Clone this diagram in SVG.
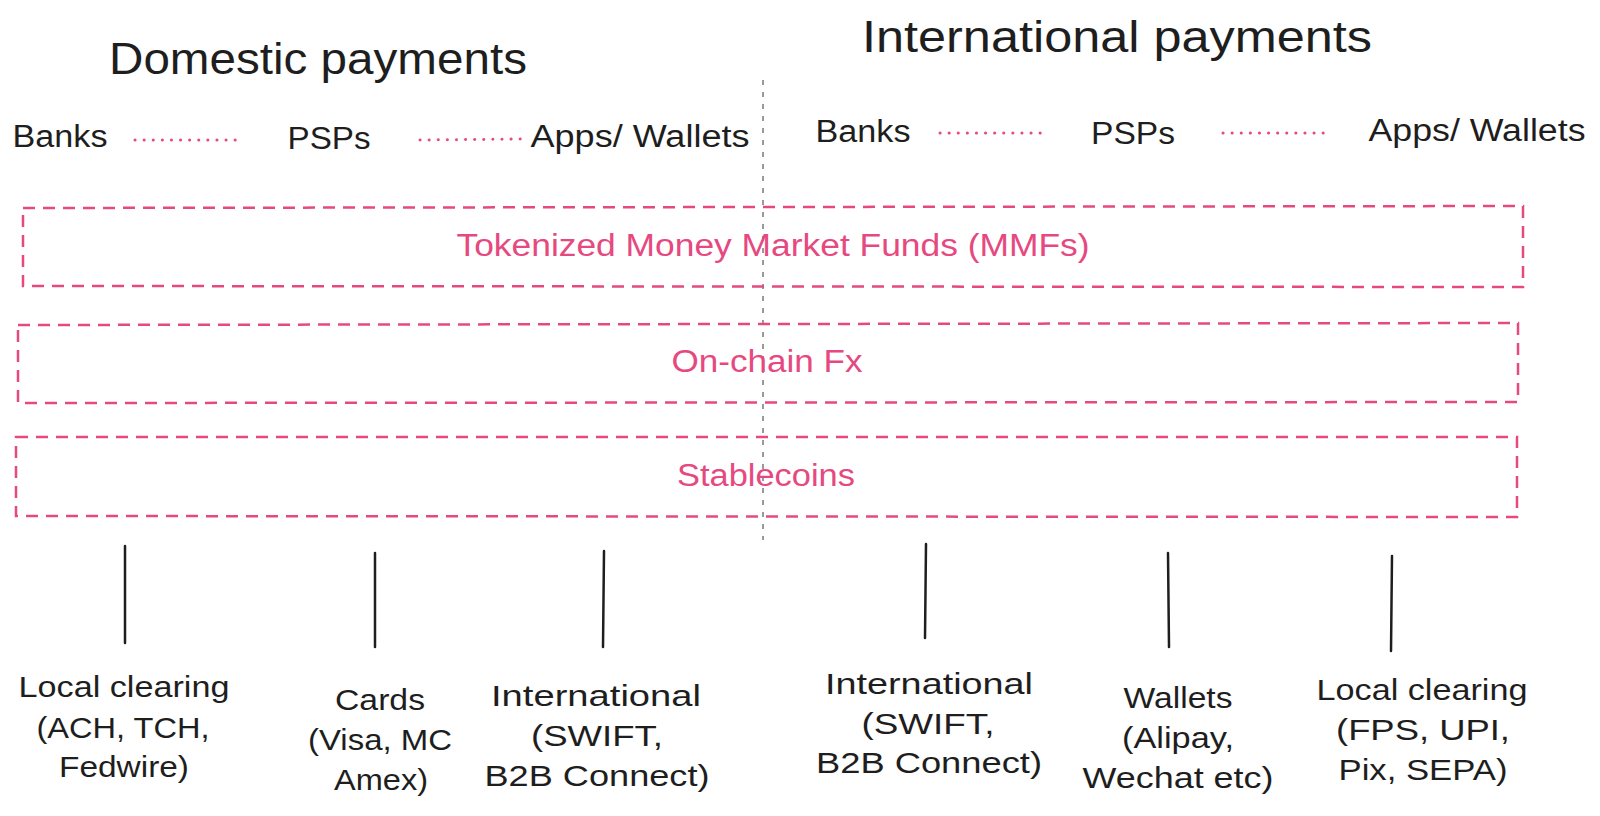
<svg xmlns="http://www.w3.org/2000/svg" width="1600" height="816" viewBox="0 0 1600 816">
<style>
.t{font-family:"Liberation Sans","Noto Sans",sans-serif;fill:#1e1e1e;text-anchor:middle}
.h{font-size:45px}
.m{font-size:31px}
.s{font-size:29px}
.p{font-family:"Liberation Sans","Noto Sans",sans-serif;fill:#e64980;text-anchor:middle;font-size:31px}
.box{fill:none;stroke:#e64980;stroke-width:2.5;stroke-dasharray:12 8}
.dot{stroke:#e64980;stroke-width:3;stroke-linecap:round;stroke-dasharray:0.1 9}
.div{stroke:#999;stroke-width:2;stroke-dasharray:5 7}
.stem{stroke:#1e1e1e;stroke-width:2.5;stroke-linecap:round}
</style>
<rect width="1600" height="816" fill="#fff"/>
<g id="titles">
<text class="t h" x="318" y="74" textLength="418" lengthAdjust="spacingAndGlyphs">Domestic payments</text>
<text class="t h" x="1117" y="52" textLength="510" lengthAdjust="spacingAndGlyphs">International payments</text>
</g>
<g id="divider"><line class="div" x1="763" y1="80" x2="763" y2="540"/></g>
<g id="dom-banks"><text class="t m" x="60" y="147" textLength="95" lengthAdjust="spacingAndGlyphs">Banks</text></g>
<g id="dom-psps"><text class="t m" x="329" y="149" textLength="83" lengthAdjust="spacingAndGlyphs">PSPs</text></g>
<g id="dom-apps"><text class="t m" x="640" y="147" textLength="219" lengthAdjust="spacingAndGlyphs">Apps/ Wallets</text></g>
<g id="int-banks"><text class="t m" x="863" y="142" textLength="95" lengthAdjust="spacingAndGlyphs">Banks</text></g>
<g id="int-psps"><text class="t m" x="1133" y="144" textLength="84" lengthAdjust="spacingAndGlyphs">PSPs</text></g>
<g id="int-apps"><text class="t m" x="1477" y="141" textLength="217" lengthAdjust="spacingAndGlyphs">Apps/ Wallets</text></g>
<g id="mmf"><path class="box" d="M23 208 L1523 206 L1523 287 L23 286 Z"/><text class="p" x="773" y="256" textLength="633" lengthAdjust="spacingAndGlyphs">Tokenized Money Market Funds (MMFs)</text></g>
<g id="fx"><path class="box" d="M18 325 L1518 323 L1518 402 L18 403 Z"/><text class="p" x="767" y="372" textLength="191" lengthAdjust="spacingAndGlyphs">On-chain Fx</text></g>
<g id="stable"><path class="box" d="M16 437 L1517 437 L1517 517 L16 516 Z"/><text class="p" x="766" y="486" textLength="178" lengthAdjust="spacingAndGlyphs">Stablecoins</text></g>
<g id="dom-local"><text class="t s" x="124" y="697" textLength="211" lengthAdjust="spacingAndGlyphs">Local clearing</text><text class="t s" x="123" y="738" textLength="173" lengthAdjust="spacingAndGlyphs">(ACH, TCH,</text><text class="t s" x="124" y="777" textLength="130" lengthAdjust="spacingAndGlyphs">Fedwire)</text></g>
<g id="dom-cards"><text class="t s" x="380" y="710" textLength="90" lengthAdjust="spacingAndGlyphs">Cards</text><text class="t s" x="380" y="750" textLength="144" lengthAdjust="spacingAndGlyphs">(Visa, MC</text><text class="t s" x="381" y="790" textLength="94" lengthAdjust="spacingAndGlyphs">Amex)</text></g>
<g id="dom-intl"><text class="t s" x="596" y="706" textLength="210" lengthAdjust="spacingAndGlyphs">International</text><text class="t s" x="597" y="746" textLength="132" lengthAdjust="spacingAndGlyphs">(SWIFT,</text><text class="t s" x="597" y="786" textLength="225" lengthAdjust="spacingAndGlyphs">B2B Connect)</text></g>
<g id="int-intl"><text class="t s" x="929" y="694" textLength="208" lengthAdjust="spacingAndGlyphs">International</text><text class="t s" x="928" y="734" textLength="133" lengthAdjust="spacingAndGlyphs">(SWIFT,</text><text class="t s" x="929" y="773" textLength="226" lengthAdjust="spacingAndGlyphs">B2B Connect)</text></g>
<g id="int-wallets"><text class="t s" x="1178" y="708" textLength="109" lengthAdjust="spacingAndGlyphs">Wallets</text><text class="t s" x="1178" y="748" textLength="112" lengthAdjust="spacingAndGlyphs">(Alipay,</text><text class="t s" x="1178" y="788" textLength="191" lengthAdjust="spacingAndGlyphs">Wechat etc)</text></g>
<g id="int-local"><text class="t s" x="1422" y="700" textLength="211" lengthAdjust="spacingAndGlyphs">Local clearing</text><text class="t s" x="1423" y="740" textLength="174" lengthAdjust="spacingAndGlyphs">(FPS, UPI,</text><text class="t s" x="1423" y="780" textLength="169" lengthAdjust="spacingAndGlyphs">Pix, SEPA)</text></g>
<g id="connectors">
<line class="dot" x1="135" y1="140" x2="240" y2="140"/>
<line class="dot" x1="420" y1="140" x2="523" y2="139"/>
<line class="dot" x1="940" y1="133" x2="1046" y2="133"/>
<line class="dot" x1="1223" y1="133" x2="1327" y2="133"/>
<line class="stem" x1="125" y1="546" x2="125" y2="643"/>
<line class="stem" x1="375" y1="553" x2="375" y2="647"/>
<line class="stem" x1="604" y1="551" x2="603" y2="647"/>
<line class="stem" x1="926" y1="544" x2="925" y2="638"/>
<line class="stem" x1="1168" y1="553" x2="1169" y2="647"/>
<line class="stem" x1="1392" y1="556" x2="1391" y2="651"/>
</g>
</svg>
